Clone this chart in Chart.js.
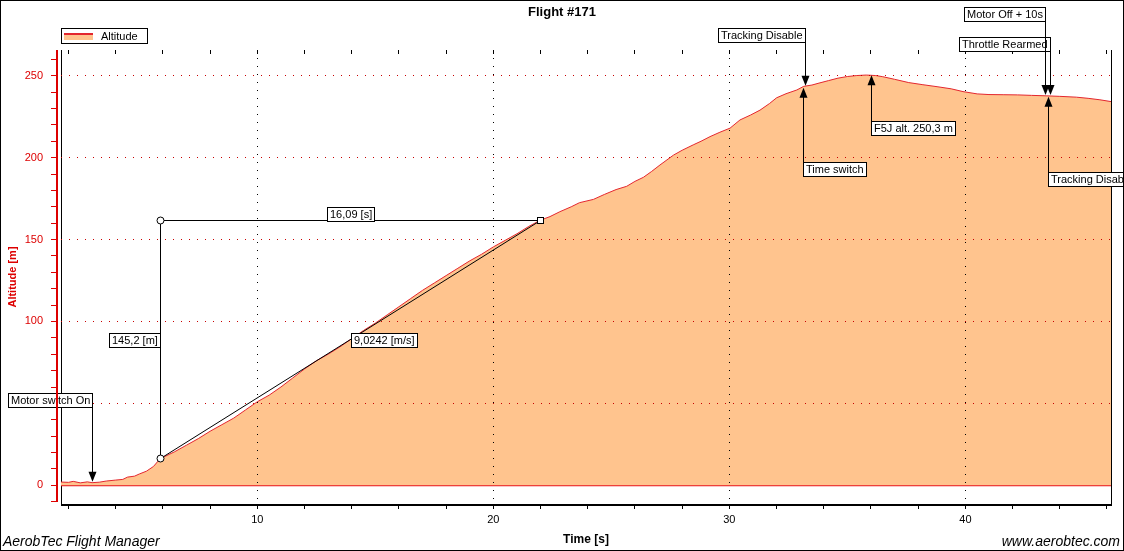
<!DOCTYPE html>
<html><head><meta charset="utf-8">
<script src="https://cdn.jsdelivr.net/npm/chart.js@4.4.0/dist/chart.umd.min.js"></script>
<style>html,body{margin:0;padding:0;background:#fff;}canvas{display:block;}</style>
</head><body>
<canvas id="c" width="1124" height="551"></canvas>
<script>
// ---- data ----
const times = [1.68, 2.0, 2.2, 2.5, 2.8, 3.0, 3.3, 3.6, 4.0, 4.3, 4.5, 4.8, 5.0, 5.3, 5.6, 5.88,
  6.5, 7.0, 7.5, 8.0, 8.5, 9.0, 9.5, 10.0, 10.5, 11.0, 11.5, 12.0, 12.5, 13.0, 13.5, 14.0, 14.5,
  15.0, 15.5, 16.0, 16.5, 17.0, 17.5, 18.0, 18.5, 19.0, 19.5, 20.0, 20.5, 21.0, 21.5, 21.97,
  22.4, 22.82, 23.3, 23.65, 24.24, 24.7, 25.2, 25.65, 26.0, 26.36, 26.7, 27.06, 27.63, 28.0,
  28.47, 28.8, 29.18, 29.6, 30.03, 30.45, 30.9, 31.3, 31.7, 32.0, 32.4, 32.86, 33.15, 33.5,
  33.8, 34.2, 34.6, 35.0, 35.4, 35.8, 36.2, 36.5, 37.0, 37.6, 38.2, 38.8, 39.4, 39.9, 40.5,
  41.0, 41.6, 42.2, 42.8, 43.45, 44.0, 44.7, 45.2, 45.7, 46.17];
const altitudes = [2.0, 1.8, 2.4, 1.5, 2.1, 1.6, 1.9, 2.6, 3.2, 3.6, 5.0, 5.6, 6.9, 8.6, 11.5, 16.2,
  20.5, 24.5, 28.5, 33, 37, 41, 46, 51, 55, 60, 65.5, 71, 76, 80, 84.5, 89.5, 94.5,
  99, 104, 109, 114, 119, 123.5, 128, 132.5, 137, 141, 145.5, 149.5, 153.5, 158, 161.7,
  164, 167, 170, 172.5, 174.5, 177.5, 180.5, 182.5, 185.5, 188, 191.5, 195.5, 201.5, 204.5,
  207.8, 210, 212.8, 215.5, 218, 223, 226, 229, 233, 236.5, 239, 241.3, 243.5, 244.3,
  245.5, 247, 248.5, 249.5, 250.1, 250.4, 250.1, 249.4, 247.8, 245.8, 244.5, 243.3, 242, 240.3, 238.9,
  238.5, 238.4, 238.3, 238, 237.7, 237.4, 236.9, 236.2, 235.3, 234.2];

const xTickValues = [2,4,6,8,10,12,14,16,18,20,22,24,26,28,30,32,34,36,38,40,42,44,46];
const xLabelValues = [10,20,30,40];
const yTickValues = [-10,0,10,20,30,40,50,60,70,80,90,100,110,120,130,140,150,160,170,180,190,200,210,220,230,240,250,260];
const yLabelValues = [0,50,100,150,200,250];
const xMin = 1.682, xMax = 46.17;
const yMin = -11.41, yMax = 265.69;

const eventLabels = ['Motor switch On','Tracking Disable','Time switch','F5J alt. 250,3 m','Motor Off + 10s','Throttle Rearmed','Tracking Disable'];
const eventTimes = [2.98, 33.22, 33.11, 36.0, 43.39, 43.59, 43.52];
const eventAltitudes = [2.2, 243.8, 242.7, 250.3, 238.3, 238.3, 237.1];

const measureTimes = [5.88, 21.97];
const measureAltitudes = [16.5, 161.7];

// ---- annotation layout (pixels, not data) ----
const tagTops = [393, 28, 162, 121, 7, 37, 172];
const tagSides = ['left','left','right','right','left','left','right'];

const FONT = '"Liberation Sans", Arial, sans-serif';
Chart.defaults.font.family = FONT;

const RED = '#dd0000';
const LINE_RED = '#e3262e';
const FILL = '#ffc48e';

function tagBox(ctx, text, px, top, side, font) {
  ctx.font = font || ('11px ' + FONT);
  const w = Math.round(ctx.measureText(text).width) + 5;
  const h = 14;
  const left = side === 'left' ? px - w : px;
  ctx.fillStyle = '#fff';
  ctx.fillRect(left, top, w, h);
  ctx.strokeStyle = '#000'; ctx.lineWidth = 1;
  ctx.strokeRect(left, top, w, h);
  ctx.fillStyle = '#000';
  ctx.textAlign = 'left'; ctx.textBaseline = 'middle';
  ctx.fillText(text, left + 2.5, top + h / 2 + 0.5);
}

function arrow(ctx, px, fromY, tipY) {
  const dir = tipY > fromY ? 1 : -1;
  ctx.strokeStyle = '#000'; ctx.lineWidth = 1;
  ctx.beginPath(); ctx.moveTo(px, fromY); ctx.lineTo(px, tipY - dir * 9); ctx.stroke();
  ctx.fillStyle = '#000';
  ctx.beginPath();
  ctx.moveTo(px - 4, tipY - dir * 10);
  ctx.lineTo(px + 4, tipY - dir * 10);
  ctx.lineTo(px, tipY);
  ctx.closePath(); ctx.fill();
}

const decor = {
  id: 'decor',
  afterDraw(chart) {
    const ctx = chart.ctx, xs = chart.scales.x, ys = chart.scales.y;
    const area = chart.chartArea;
    ctx.save();
    ctx.setLineDash([]);
    ctx.globalAlpha = 1;

    // legend
    ctx.fillStyle = '#fff';
    ctx.fillRect(61.5, 28.5, 86, 15);
    ctx.strokeStyle = '#000'; ctx.lineWidth = 1;
    ctx.strokeRect(61.5, 28.5, 86, 15);
    ctx.fillStyle = FILL; ctx.fillRect(64, 35, 29, 5);
    ctx.fillStyle = LINE_RED; ctx.fillRect(64, 33, 29, 2);
    ctx.fillStyle = '#000'; ctx.font = '11px ' + FONT;
    ctx.textAlign = 'left'; ctx.textBaseline = 'middle';
    ctx.fillText(chart.data.datasets[0].label, 101, 36.5);

    // measurement
    const x0 = Math.round(xs.getPixelForValue(measureTimes[0])) + 0.5;
    const x1 = Math.round(xs.getPixelForValue(measureTimes[1])) + 0.5;
    const y0 = Math.round(ys.getPixelForValue(measureAltitudes[0])) + 0.5;
    const y1 = Math.round(ys.getPixelForValue(measureAltitudes[1])) + 0.5;
    ctx.strokeStyle = '#000'; ctx.lineWidth = 1;
    ctx.beginPath();
    ctx.moveTo(x0, y0); ctx.lineTo(x0, y1); ctx.lineTo(x1, y1);
    ctx.moveTo(x0, y0); ctx.lineTo(x1, y1);
    ctx.stroke();
    [[x0, y0], [x0, y1]].forEach(([cx, cy]) => {
      ctx.beginPath(); ctx.arc(cx, cy, 3.5, 0, Math.PI * 2);
      ctx.fillStyle = '#fff'; ctx.fill(); ctx.stroke();
    });
    ctx.fillStyle = '#fff'; ctx.fillRect(x1 - 3, y1 - 3, 6, 6); ctx.strokeRect(x1 - 3, y1 - 3, 6, 6);
    const dt = measureTimes[1] - measureTimes[0];
    const dAlt = measureAltitudes[1] - measureAltitudes[0];
    const fmt = (v, d) => v.toFixed(d).replace('.', ',');
    ctx.font = '11px ' + FONT;
    const tDt = fmt(dt, 2) + ' [s]';
    const wDt = Math.round(ctx.measureText(tDt).width) + 5;
    tagBox(ctx, tDt, Math.round((x0 + x1) / 2 - wDt / 2) + 0.5, y1 - 13, 'right');
    const midY = Math.round((y0 + y1) / 2 - 7) + 0.5;
    tagBox(ctx, fmt(dAlt, 1) + ' [m]', x0, midY, 'left');
    tagBox(ctx, fmt(dAlt / dt, 4) + ' [m/s]', Math.round((x0 + x1) / 2) + 0.5, midY, 'right');

    // event tags
    const pts = eventTimes.map((t, i) => ({
      px: Math.round(xs.getPixelForValue(t)) + 0.5,
      tip: ys.getPixelForValue(eventAltitudes[i]),
      top: tagTops[i] + 0.5
    }));
    pts.forEach((p, i) => tagBox(ctx, eventLabels[i], p.px, p.top, tagSides[i]));
    pts.forEach((p) => arrow(ctx, p.px, p.top, p.tip));

    // footer texts
    ctx.fillStyle = '#000';
    ctx.font = 'italic 14px ' + FONT;
    ctx.textBaseline = 'alphabetic';
    ctx.textAlign = 'left';
    ctx.fillText('AerobTec Flight Manager', 3, 545.5);
    ctx.textAlign = 'right';
    ctx.fillText('www.aerobtec.com', 1120, 545.5);

    // solid axis lines (the scales' own borders would take the dotted grid dash)
    const axX = Math.round(ys.right);
    const axY = Math.round(xs.top);
    const yEnd = Math.round(ys.getPixelForValue(-10));
    ctx.fillStyle = RED;
    ctx.fillRect(axX - 1, Math.round(area.top), 2, yEnd - Math.round(area.top));
    ctx.fillStyle = '#000';
    ctx.fillRect(Math.round(area.left), axY, Math.round(area.right - area.left) + 1, 2);

    // outer frame
    ctx.strokeStyle = '#000'; ctx.lineWidth = 1;
    ctx.strokeRect(0.5, 0.5, chart.width - 1, chart.height - 1);
    ctx.restore();
  }
};

const DOT = [1, 7];
const transparent = 'rgba(0,0,0,0)';

new Chart(document.getElementById('c'), {
  type: 'line',
  data: {
    datasets: [
      {
        label: 'Altitude',
        data: times.map((t, i) => ({x: t, y: altitudes[i]})),
        xAxisID: 'x', yAxisID: 'y',
        borderColor: LINE_RED, borderWidth: 1,
        backgroundColor: FILL, fill: 'origin',
        pointRadius: 0, tension: 0
      },
      {
        label: 'zero',
        data: [{x: xMin, y: 0}, {x: xMax, y: 0}],
        xAxisID: 'x', yAxisID: 'y',
        borderColor: '#e8141c', borderWidth: 2,
        pointRadius: 0, fill: false
      }
    ]
  },
  options: {
    responsive: false,
    animation: false,
    devicePixelRatio: 1,
    layout: {padding: 0},
    plugins: {
      legend: {display: false},
      tooltip: {enabled: false},
      title: {
        display: true, text: 'Flight #171', color: '#000',
        font: {size: 13, weight: 'bold'},
        padding: {top: 5, bottom: 0}
      }
    },
    scales: {
      x: {
        type: 'linear', position: 'bottom', min: xMin, max: xMax,
        afterBuildTicks: s => { s.ticks = xTickValues.map(v => ({value: v})); },
        afterFit: s => { s.height = 47; },
        ticks: {
          autoSkip: false, maxRotation: 0, color: '#000', font: {size: 11}, padding: 4,
          callback: v => xLabelValues.includes(v) ? String(v) : ''
        },
        grid: {
          z: 1, lineWidth: 1, tickLength: 5, tickColor: '#000',
          color: c => (c.tick && xLabelValues.includes(c.tick.value)) ? '#000' : transparent
        },
        border: {display: false, color: '#000', width: 1, dash: DOT},
        title: {display: true, text: 'Time [s]', color: '#000', font: {size: 12, weight: 'bold'}, padding: {top: 0, bottom: 4.5}}
      },
      xTop: {
        type: 'linear', position: 'top', min: xMin, max: xMax,
        afterBuildTicks: s => { s.ticks = xTickValues.map(v => ({value: v})); },
        afterFit: s => { s.height = 29.4; },
        ticks: {display: false},
        grid: {z: 1, drawOnChartArea: false, tickLength: -4, color: '#000'},
        border: {display: true, color: '#000', width: 1}
      },
      y: {
        type: 'linear', position: 'left', weight: 2, min: yMin, max: yMax,
        afterBuildTicks: s => { s.ticks = yTickValues.map(v => ({value: v})); },
        afterFit: s => { s.width = 57; },
        ticks: {
          color: RED, font: {size: 11}, padding: 8,
          callback: v => yLabelValues.includes(v) ? String(v) : ''
        },
        grid: {
          z: 1, lineWidth: 1, tickLength: 6, tickColor: RED,
          color: c => (c.tick && c.tick.value > 0 && yLabelValues.includes(c.tick.value)) ? '#c80000' : transparent
        },
        border: {display: false, color: RED, width: 1, dash: DOT},
        title: {display: true, text: 'Altitude [m]', color: RED, font: {size: 11, weight: 'bold'}, padding: {top: 5.9, bottom: 0}}
      },
      yFrame: {
        type: 'linear', position: 'left', weight: 1, min: 0, max: 1,
        afterFit: s => { s.width = 4; },
        ticks: {display: false},
        grid: {display: false, drawTicks: false},
        border: {display: true, color: '#000', width: 1}
      },
      yRight: {
        type: 'linear', position: 'right', min: 0, max: 1,
        afterFit: s => { s.width = 13; },
        ticks: {display: false},
        grid: {display: false, drawTicks: false},
        border: {display: true, color: '#000', width: 1}
      }
    }
  },
  plugins: [decor]
});
</script>
</body></html>
